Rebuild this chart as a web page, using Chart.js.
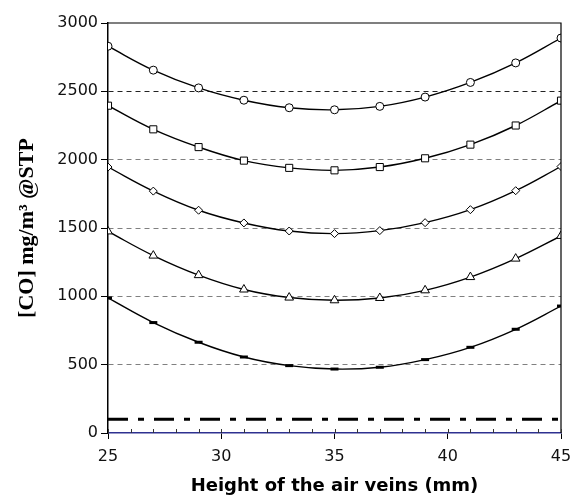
<!DOCTYPE html>
<html>
<head>
<meta charset="utf-8">
<script src="https://cdn.jsdelivr.net/npm/chart.js@4"></script>
<style>
  html, body { margin: 0; padding: 0; background: #fff; }
  #wrap { width: 574px; height: 497px; }
</style>
</head>
<body>
<div id="wrap"><canvas id="chart1" width="574" height="497"></canvas></div>
<script>
// data
var heights = [25, 27, 29, 31, 33, 35, 37, 39, 41, 43, 45];
var circleSeries = [2830, 2655, 2525, 2435, 2380, 2365, 2390, 2458, 2565, 2708, 2890];
var squareSeries = [2395, 2222, 2092, 1993, 1940, 1922, 1946, 2010, 2110, 2250, 2432];
var diamondSeries = [1946, 1770, 1630, 1537, 1478, 1459, 1481, 1539, 1634, 1773, 1950];
var triangleSeries = [1475, 1298, 1155, 1050, 991, 971, 988, 1044, 1141, 1276, 1442];
var dashSeries = [988, 808, 664, 556, 493, 468, 481, 537, 627, 759, 929];
var limitX = [25, 45];
var limitY = [100, 100];

function pts(xs, ys) {
    return xs.map(function(x, i) { return {x: x, y: ys[i]}; });
}

function series(values, style, radius, bw) {
    return {
        data: pts(heights, values),
        borderColor: '#000',
        borderWidth: 1.4,
        tension: 0.4,
        fill: false,
        pointStyle: style,
        pointRadius: radius,
        pointBorderWidth: bw,
        pointBackgroundColor: '#fff',
        pointBorderColor: '#000'
    };
}

// frame on top/right + small inner ticks on the x axis
var frame = {
    id: 'frame',
    afterDraw: function(chart) {
        var a = chart.chartArea, c = chart.ctx, xs = chart.scales.x;
        c.save();
        c.strokeStyle = '#000';
        c.lineWidth = 1.2;
        c.beginPath();
        c.moveTo(a.left, a.top);
        c.lineTo(a.right, a.top);
        c.lineTo(a.right, a.bottom);
        c.stroke();
        c.lineWidth = 1;
        c.strokeStyle = '#333';
        for (var v = xs.min; v <= xs.max; v++) {
            var px = Math.round(xs.getPixelForValue(v)) + 0.5;
            c.beginPath();
            c.moveTo(px, a.bottom - 4);
            c.lineTo(px, a.bottom);
            c.stroke();
        }
        c.restore();
    }
};

var ctx = document.getElementById('chart1').getContext('2d');
var myChart = new Chart(ctx, {
    type: 'line',
    data: {
        datasets: [
            series(circleSeries, 'circle', 4, 1),
            series(squareSeries, 'rect', 5, 1),
            series(diamondSeries, 'rectRot', 4, 1),
            series(triangleSeries, 'triangle', 5, 1),
            series(dashSeries, 'line', 4, 3),
            {
                data: pts(limitX, limitY),
                borderColor: '#000',
                borderWidth: 3,
                borderDash: [20, 10, 6, 10],
                pointRadius: 0,
                tension: 0,
                fill: false
            }
        ]
    },
    options: {
        responsive: false,
        animation: false,
        layout: {
            padding: { top: 23, right: 13, left: 0, bottom: 0 }
        },
        plugins: {
            legend: { display: false },
            tooltip: { enabled: false }
        },
        scales: {
            x: {
                type: 'linear',
                min: 25,
                max: 45,
                afterFit: function(s) {
                    s.height = 64;
                    s.paddingLeft = 0;
                    s.paddingRight = 0;
                },
                ticks: {
                    stepSize: 5,
                    color: '#111',
                    padding: 8,
                    font: { family: 'DejaVu Sans', size: 16 },
                    callback: function(v) { return String(v); }
                },
                grid: {
                    drawOnChartArea: false,
                    tickLength: 6,
                    tickColor: '#000'
                },
                border: { color: '#2e3190', width: 1.5 },
                title: {
                    display: true,
                    text: 'Height of the air veins (mm)',
                    color: '#000',
                    padding: { top: 0, bottom: 0 },
                    font: { family: 'DejaVu Sans', size: 18, weight: 'bold' }
                }
            },
            y: {
                min: 0,
                max: 3000,
                afterFit: function(s) { s.width = 108; },
                ticks: {
                    stepSize: 500,
                    color: '#111',
                    padding: 3,
                    font: { family: 'DejaVu Sans', size: 16 },
                    callback: function(v) { return String(v); }
                },
                grid: {
                    color: function(c) {
                        var v = c.tick ? c.tick.value : 0;
                        if (v === 0 || v === 3000) return 'rgba(0,0,0,0)';
                        return v === 2500 ? '#222' : '#808080';
                    },
                    lineWidth: 1,
                    tickLength: 7,
                    tickColor: '#000'
                },
                border: { color: '#000', width: 1.5, dash: [5, 4] },
                title: {
                    display: true,
                    text: '[CO] mg/m³ @STP',
                    color: '#000',
                    padding: { top: 14, bottom: 0 },
                    font: { family: 'Liberation Serif', size: 22, weight: 'bold' }
                }
            }
        }
    },
    plugins: [frame]
});
</script>
</body>
</html>
